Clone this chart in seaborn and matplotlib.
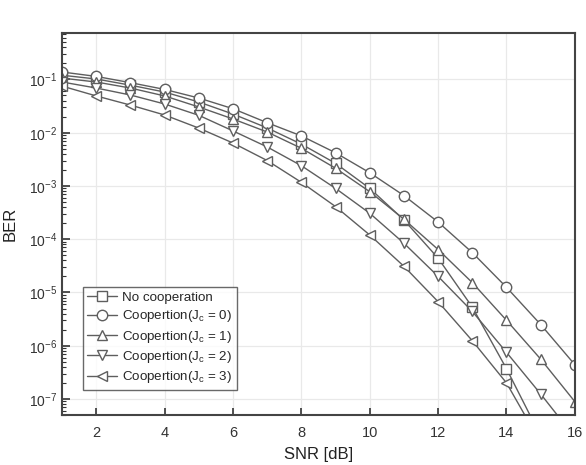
import numpy as np
import pandas as pd
import matplotlib
matplotlib.use("Agg")
import matplotlib.pyplot as plt
import seaborn as sns
from matplotlib.ticker import LogLocator, NullFormatter

snr = [1, 2, 3, 4, 5, 6, 7, 8, 9, 10, 11, 12, 13, 14, 15, 16]

ber_no_coop = [0.12, 0.102, 0.078, 0.058, 0.0377, 0.0224, 0.0123, 0.0061, 0.00266,
               9.0e-4, 2.3e-4, 4.4e-5, 5.3e-6, 3.7e-7, 2.0e-8, 1.0e-9]
ber_j0 = [0.138, 0.114, 0.087, 0.065, 0.0448, 0.0282, 0.0154, 0.0087, 0.0042,
          0.00177, 6.6e-4, 2.1e-4, 5.6e-5, 1.25e-5, 2.5e-6, 4.4e-7]
ber_j1 = [0.106, 0.0895, 0.069, 0.049, 0.0304, 0.0181, 0.0103, 0.0051, 0.00215,
          7.8e-4, 2.37e-4, 6.4e-5, 1.53e-5, 3.0e-6, 5.6e-7, 8.9e-8]
ber_j2 = [0.0895, 0.069, 0.051, 0.0346, 0.0212, 0.0108, 0.0054, 0.0024, 9.0e-4,
          3.07e-4, 8.4e-5, 2.0e-5, 4.4e-6, 7.5e-7, 1.24e-7, 1.9e-8]
ber_j3 = [0.075, 0.049, 0.033, 0.0215, 0.0122, 0.0064, 0.00300, 0.00117, 4.1e-4,
          1.2e-4, 3.1e-5, 6.7e-6, 1.24e-6, 2.0e-7, 1.5e-8, 1.0e-9]

labels = ["No cooperation", "Coopertion(J$_c$ = 0)", "Coopertion(J$_c$ = 1)",
          "Coopertion(J$_c$ = 2)", "Coopertion(J$_c$ = 3)"]
markers = ["s", "o", "^", "v", "<"]
y_ticks = [1e-7, 1e-6, 1e-5, 1e-4, 1e-3, 1e-2, 1e-1]
x_ticks = [2, 4, 6, 8, 10, 12, 14, 16]

sns.set_style("white")
plt.rcParams['font.family'] = ['Liberation Sans', 'DejaVu Sans']
plt.rcParams['mathtext.default'] = 'regular'

fig = plt.figure(figsize=(5.86, 4.65), dpi=100)
ax = fig.add_axes([0.106, 0.1075, 0.875, 0.8225])

line_col = "#5e5e5e"
for vals, lab, mk in zip([ber_no_coop, ber_j0, ber_j1, ber_j2, ber_j3], labels, markers):
    df = pd.DataFrame({"SNR": snr, "BER": vals})
    sns.lineplot(data=df, x="SNR", y="BER", ax=ax, color=line_col, linewidth=1.0,
                 marker=mk, markersize=7.5, markerfacecolor="white",
                 markeredgecolor=line_col, markeredgewidth=1.0, label=lab)

ax.set_yscale("log")
ax.set_xlim(1, 16)
ax.set_ylim(5e-8, 0.76)
ax.set_xticks(x_ticks)
ax.set_yticks(y_ticks)
ax.yaxis.set_minor_locator(LogLocator(base=10, subs=np.arange(2, 10), numticks=50))
ax.yaxis.set_minor_formatter(NullFormatter())

ax.grid(True, which="major", color="#e9e9e9", linewidth=0.9)
ax.tick_params(axis="x", direction="in", length=5, width=1.2, colors="#333333",
               labelsize=10.5, pad=8, top=False, bottom=True)
ax.tick_params(axis="y", which="major", direction="in", length=6, width=1.2,
               colors="#333333", labelsize=10, left=True, right=False)
ax.tick_params(axis="y", which="minor", direction="in", length=3, width=0.8,
               colors="#333333", left=True, right=False)
for s in ax.spines.values():
    s.set_color("#444444")
    s.set_linewidth(1.5)

ax.set_xlabel("SNR [dB]", fontsize=12, color="#222222", labelpad=5)
ax.set_ylabel("BER", fontsize=12, color="#222222", labelpad=8)

leg = ax.legend(loc="upper left", bbox_to_anchor=(0.04, 0.335), fontsize=9.6,
                frameon=True, fancybox=False, edgecolor="#444444",
                handlelength=2.2, handletextpad=0.4, borderpad=0.35,
                labelspacing=0.33, borderaxespad=0)
leg.get_frame().set_linewidth(1.0)

fig.savefig("out.png", dpi=100)
